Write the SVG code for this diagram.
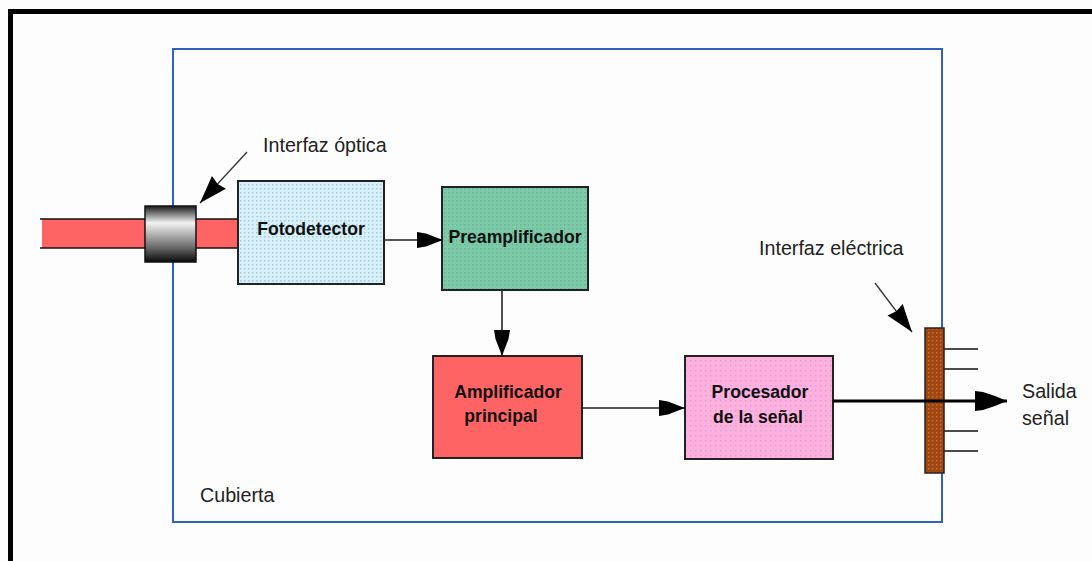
<svg xmlns="http://www.w3.org/2000/svg" width="1092" height="561" viewBox="0 0 1092 561">
<style>
.lbl{font-family:"Liberation Sans",Arial,sans-serif;font-size:19.7px;fill:#222}
.bold{font-family:"Liberation Sans",Arial,sans-serif;font-size:17.6px;font-weight:bold;fill:#111;text-anchor:middle}
.box{stroke:#222;stroke-width:2}
.conn{stroke:#222;stroke-width:1.6;fill:none}
</style>
<defs>
<pattern id="pBlue" width="4" height="4" patternUnits="userSpaceOnUse">
<rect width="4" height="4" fill="#d6f1f8"/><rect width="1.5" height="1.5" fill="#a8c6e8"/></pattern>
<pattern id="pGreen" width="4" height="4" patternUnits="userSpaceOnUse">
<rect width="4" height="4" fill="#7ccaa8"/><rect width="1.5" height="1.5" fill="#66b896"/></pattern>
<pattern id="pPink" width="5" height="5" patternUnits="userSpaceOnUse">
<rect width="5" height="5" fill="#ffb0dc"/><rect width="1.5" height="1.5" fill="#d0a4e4"/></pattern>
<pattern id="pBrown" width="4" height="4" patternUnits="userSpaceOnUse">
<rect width="4" height="4" fill="#a0460e"/><rect width="1.5" height="1.5" fill="#c2703a"/></pattern>
<linearGradient id="metal" x1="0" y1="0" x2="0" y2="1">
<stop offset="0" stop-color="#1a1a1a"/><stop offset="0.3" stop-color="#f2f2f2"/><stop offset="0.75" stop-color="#666"/><stop offset="1" stop-color="#0a0a0a"/></linearGradient>
<marker id="plug" markerUnits="userSpaceOnUse" markerWidth="27" markerHeight="18" viewBox="-27 -9 27 18" refX="0" refY="0" orient="auto">
<path d="M0,0 L-8,-3 L-17,-6.5 L-26,-8 L-26,8 L-17,6.5 L-8,3 Z" fill="#000"/></marker>
<marker id="big" markerUnits="userSpaceOnUse" markerWidth="34" markerHeight="22" viewBox="-33 -11 34 22" refX="0" refY="0" orient="auto">
<path d="M0,0 L-12,-5 L-24,-9 L-32,-10 L-32,10 L-24,9 L-12,5 Z" fill="#000"/></marker>
<marker id="ptr" markerUnits="userSpaceOnUse" markerWidth="30" markerHeight="22" viewBox="-29 -11 30 22" refX="0" refY="0" orient="auto">
<path d="M0,0 L-28,-9.5 L-26,0 L-28,9.5 Z" fill="#000"/></marker>
</defs>
<rect width="1092" height="561" fill="#fdfdfd"/>
<rect x="10.5" y="11.5" width="1100" height="600" fill="none" stroke="#000" stroke-width="5"/>
<g id="cubierta">
<rect x="173" y="49" width="769" height="473" fill="none" stroke="#2f62c0" stroke-width="2"/>
<text class="lbl" x="200" y="502">Cubierta</text>
</g>
<g id="fibra">
<rect x="42" y="219" width="196" height="29" fill="#ff6464"/>
<line x1="40" y1="219" x2="238" y2="219" stroke="#111" stroke-width="1.5"/>
<line x1="40" y1="248" x2="238" y2="248" stroke="#111" stroke-width="1.5"/>
</g>
<g id="interfaz-optica">
<rect x="145" y="206" width="51" height="56" fill="url(#metal)" stroke="#111" stroke-width="1.5"/>
<text class="lbl" x="263" y="152">Interfaz óptica</text>
</g>
<g id="fotodetector">
<rect class="box" x="238" y="181" width="146" height="103" fill="url(#pBlue)"/>
<text class="bold" x="311" y="235">Fotodetector</text>
</g>
<g id="preamplificador">
<rect class="box" x="442" y="187" width="146" height="103" fill="url(#pGreen)"/>
<text class="bold" x="515" y="243">Preamplificador</text>
</g>
<g id="amplificador">
<rect class="box" x="433" y="356" width="149" height="102" fill="#ff6464"/>
<text class="bold" x="508" y="398">Amplificador</text>
<text class="bold" x="501" y="422">principal</text>
</g>
<g id="procesador">
<rect class="box" x="685" y="356" width="148" height="103" fill="url(#pPink)"/>
<text class="bold" x="760" y="398">Procesador</text>
<text class="bold" x="758" y="423">de la señal</text>
</g>
<g id="interfaz-electrica">
<g stroke="#111" stroke-width="1.5">
<line x1="944" y1="349" x2="978" y2="349"/>
<line x1="944" y1="369" x2="978" y2="369"/>
<line x1="944" y1="431" x2="978" y2="431"/>
<line x1="944" y1="451" x2="978" y2="451"/>
</g>
<rect x="925" y="328" width="19" height="145" fill="url(#pBrown)" stroke="#222" stroke-width="1.5"/>
<text class="lbl" x="759" y="255">Interfaz eléctrica</text>
</g>
<g id="salida">
<text class="lbl" x="1022" y="398">Salida</text>
<text class="lbl" x="1022" y="425">señal</text>
</g>
<g id="connectors">
<line class="conn" x1="384" y1="240" x2="443" y2="240" marker-end="url(#plug)"/>
<line class="conn" x1="502" y1="290" x2="502" y2="356" marker-end="url(#plug)"/>
<line class="conn" x1="582" y1="408" x2="685" y2="408" marker-end="url(#plug)"/>
<line x1="833" y1="401" x2="1007" y2="401" stroke="#000" stroke-width="3" marker-end="url(#big)"/>
<line x1="247" y1="152" x2="200" y2="203" stroke="#333" stroke-width="1.3" marker-end="url(#ptr)"/>
<line x1="875" y1="283" x2="912" y2="332" stroke="#333" stroke-width="1.3" marker-end="url(#ptr)"/>
</g>
</svg>
